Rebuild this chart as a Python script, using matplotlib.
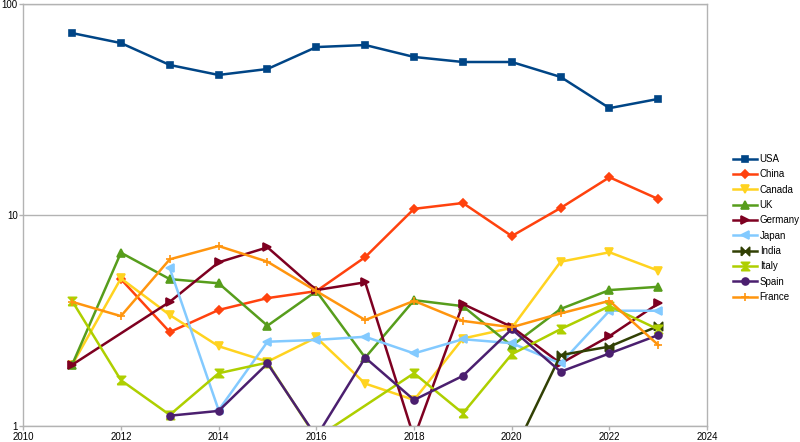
import numpy as np
import matplotlib.pyplot as plt
from matplotlib.ticker import FixedLocator, NullLocator, FixedFormatter

plt.rcParams['font.family'] = ['Liberation Sans', 'DejaVu Sans']

# data (log scale values)
years_all = list(range(2011, 2024))

usa = [72.8, 65.3, 51.4, 46.1, 49.2, 62.5, 63.9, 56.1, 53.1, 53.1, 45.1, 32.1, 35.5]
china_years = list(range(2012, 2024))
china = [4.97, 2.79, 3.55, 4.04, 4.36, 6.32, 10.7, 11.4, 7.95, 10.8, 15.1, 11.9]
canada = [1.95, 5.01, 3.36, 2.39, 2.02, 2.63, 1.59, 1.33, 2.60, 2.92, 6.01, 6.66, 5.45]
uk = [1.95, 6.63, 4.97, 4.75, 2.99, 4.36, 2.11, 3.95, 3.70, 2.40, 3.59, 4.41, 4.57]
germany_years = [2011] + list(range(2013, 2024))
germany = [1.95, 3.88, 5.97, 7.03, 4.41, 4.80, 0.88, 3.79, 2.95, 1.98, 2.67, 3.81]
japan_years = list(range(2013, 2024))
japan = [5.59, 1.19, 2.51, 2.56, 2.65, 2.21, 2.58, 2.47, 1.98, 3.52, 3.52]
india_years = list(range(2020, 2024))
india = [0.72, 2.17, 2.38, 2.98]
italy_years = [2011, 2012, 2013, 2014, 2015, 2016, 2018, 2019, 2020, 2021, 2022, 2023]
italy = [3.92, 1.65, 1.13, 1.78, 2.00, 0.88, 1.78, 1.15, 2.19, 2.88, 3.70, 2.87]
spain_years = [2013, 2014, 2015, 2016, 2017, 2018, 2019, 2020, 2021, 2022, 2023]
spain = [1.12, 1.18, 1.98, 0.89, 2.11, 1.33, 1.73, 2.88, 1.81, 2.21, 2.70]
france = [3.88, 3.32, 6.17, 7.13, 6.01, 4.36, 3.18, 3.92, 3.15, 2.94, 3.42, 3.92, 2.42]

# bowtie shaped markers
bowtie_h = [(-1, -1), (1, 1), (1, -1), (-1, 1), (-1, -1)]
bowtie_v = [(-1, -1), (1, 1), (-1, 1), (1, -1), (-1, -1)]

series = [
    ("USA", years_all, usa, '#004586', 's', 5),
    ("China", china_years, china, '#ff420e', 'D', 4.5),
    ("Canada", years_all, canada, '#ffd320', 'v', 6),
    ("UK", years_all, uk, '#579d1c', '^', 6),
    ("Germany", germany_years, germany, '#7e0021', '>', 6),
    ("Japan", japan_years, japan, '#83caff', '<', 6),
    ("India", india_years, india, '#314004', bowtie_h, 6),
    ("Italy", italy_years, italy, '#aecf00', bowtie_v, 6),
    ("Spain", spain_years, spain, '#4b1f6f', 'o', 5),
    ("France", years_all, france, '#ff950e', '+', 6),
]

fig = plt.figure(figsize=(8, 4.42), dpi=100)
ax = fig.add_axes([0.029, 0.036, 0.855, 0.955])

for name, xs, ys, col, mk, ms in series:
    ax.plot(xs, ys, color=col, marker=mk, markersize=ms, linewidth=1.8,
            markeredgecolor=col, markerfacecolor=col, markeredgewidth=1.2,
            label=name, clip_on=True)

ax.set_yscale('log')
ax.set_ylim(1, 100)
ax.set_xlim(2010, 2024)
ax.yaxis.set_major_locator(FixedLocator([1, 10, 100]))
ax.yaxis.set_major_formatter(FixedFormatter(['1', '10', '100']))
ax.yaxis.set_minor_locator(NullLocator())
ax.set_xticks(range(2010, 2025, 2))

ax.grid(axis='y', color='#b3b3b3', linewidth=1)
ax.set_axisbelow(True)
for s in ax.spines.values():
    s.set_color('#b3b3b3')
    s.set_linewidth(1)
ax.tick_params(axis='both', colors='#b3b3b3', labelcolor='black', labelsize=7,
               length=3, width=1, pad=1)

ax.legend(loc='center left', bbox_to_anchor=(0.912, 0.484),
          bbox_transform=fig.transFigure, frameon=False, fontsize=7,
          handlelength=2.4, labelspacing=0.55, handletextpad=0.3,
          borderaxespad=0)

fig.savefig('out.png', dpi=100)
